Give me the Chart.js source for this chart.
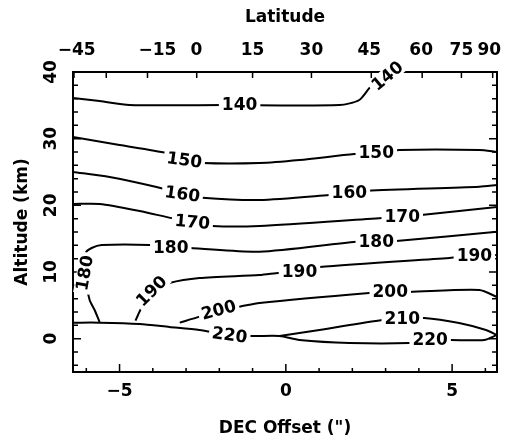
<!DOCTYPE html>
<html><head><meta charset="utf-8">
<script src="https://cdn.jsdelivr.net/npm/chart.js@4"></script>
<style>html,body{margin:0;padding:0;background:#fff}</style>
</head><body>
<canvas id="c" width="505" height="442"></canvas>
<script>
// ---- data ----
const decTicks = [-5, 0, 5];
const altTicks = [0, 10, 20, 30, 40];
const latLabels = ['−45', '−15', '0', '15', '30', '45', '60', '75', '90'];
const latLabelDec = [-6.29, -3.86, -2.69, -1.0, 0.77, 2.51, 4.07, 5.28, 6.12];
const latTickDec = [-6.37, -5.4, -4.16, -2.68, -1.0, 0.77, 2.57, 4.1, 5.28, 6.22];

const c140x = [-6.4, -5.6, -4.7, -1.85, 1.61, 2.21, 2.57, 3.05, 3.5];
const c140y = [36.1, 35.65, 35.05, 35.05, 35.05, 35.8, 37.9, 39.4, 40.6];
const c150x = [-6.4, -5.0, -3.59, -3.05, -2.5, -0.79, 0.41, 2.06, 2.72, 3.41, 5.82, 6.35];
const c150y = [30.25, 29.05, 27.85, 26.8, 26.35, 26.35, 26.8, 27.7, 27.85, 28.3, 28.3, 28.0];
const c160x = [-6.4, -5.3, -3.89, -3.11, -2.51, -0.79, 1.31, 1.91, 2.45, 5.82, 6.35];
const c160y = [25.0, 24.25, 22.75, 21.7, 21.15, 20.8, 21.55, 21.85, 22.2, 22.8, 23.05];
const c170x = [-6.4, -5.6, -4.4, -3.41, -2.81, -2.21, -0.79, 2.9, 3.5, 4.07, 6.35];
const c170y = [20.2, 20.2, 19.15, 18.06, 17.5, 16.9, 16.9, 18.1, 18.25, 18.55, 19.75];
const c180x = [-5.6, -5.75, -5.9, -6.05, -6.02, -5.84, -5.54, -4.1, -3.46, -2.9, -0.79, 2.12, 2.72, 3.32, 6.35];
const c180y = [2.5, 4.3, 5.8, 9.85, 12.85, 13.6, 14.05, 14.05, 13.6, 13.6, 13.05, 14.55, 14.55, 14.65, 16.05];
const c190x = [-4.52, -4.4, -4.04, -3.5, -2.6, -0.79, -0.19, 0.41, 1.01, 4.92, 5.67, 6.35];
const c190y = [2.7, 4.05, 7.15, 8.35, 9.1, 9.55, 9.9, 10.08, 10.75, 12.1, 12.4, 12.55];
const c200x = [-3.19, -2.6, -2.02, -1.39, -0.79, 2.51, 3.14, 3.71, 5.82, 6.35];
const c200y = [2.4, 3.3, 4.3, 4.8, 5.35, 6.85, 7.0, 7.0, 7.3, 6.25];
const c210x = [-0.19, 1.01, 2.9, 3.5, 4.16, 5.21, 6.02, 6.35];
const c210y = [0.4, 1.3, 2.8, 2.95, 3.1, 2.35, 1.3, 0.55];
const c220x = [-6.4, -5.6, -4.4, -3.5, -2.6, -1.69, -0.95, -0.19, 0.41, 1.91, 3.71, 4.34, 4.97, 5.96, 6.35];
const c220y = [2.4, 2.4, 2.2, 1.75, 1.3, 0.55, 0.4, 0.4, -0.2, -0.65, -0.65, -0.2, -0.2, -0.2, 0.55];

const labelLevel = [140, 140, 150, 150, 160, 160, 170, 170, 180, 180, 180, 190, 190, 190, 200, 200, 210, 220, 220];
const labelX = [-1.39, 3.05, -3.05, 2.72, -3.11, 1.91, -2.81, 3.5, -6.05, -3.46, 2.72, -4.04, 0.41, 5.67, -2.02, 3.14, 3.5, -1.69, 4.34];
const labelY = [35.05, 39.4, 26.8, 27.85, 21.7, 21.85, 17.5, 18.25, 9.85, 13.6, 14.55, 7.15, 10.08, 12.4, 4.3, 7.0, 2.95, 0.55, -0.2];
const labelAngle = [0, -40, 8, 0, 8, 0, 5, 0, -80, 0, 0, -45, 0, 0, -15, 0, 0, 8, 0];

// ---- build ----
const pts = (xs, ys) => xs.map((x, i) => ({x: x, y: ys[i]}));
const contours = [[c140x, c140y], [c150x, c150y], [c160x, c160y], [c170x, c170y], [c180x, c180y],
                  [c190x, c190y], [c200x, c200y], [c210x, c210y], [c220x, c220y]];
const FONT = {family: '"DejaVu Sans", sans-serif', size: 17, weight: 'bold'};

const framePlugin = {
  id: 'frame',
  afterDraw(chart) {
    const {ctx, chartArea: {left, right, top, bottom}, scales} = chart;
    ctx.save();
    ctx.strokeStyle = '#000';
    ctx.lineWidth = 2;
    ctx.strokeRect(left, top, right - left, bottom - top);
    ctx.lineWidth = 1.5;
    ctx.beginPath();
    for (let v = -6; v <= 6; v++) {
      const px = scales.x.getPixelForValue(v);
      const L = v % 5 === 0 ? 8 : 4;
      ctx.moveTo(px, bottom); ctx.lineTo(px, bottom - L);
    }
    latTickDec.forEach(v => {
      const px = scales.x2.getPixelForValue(v);
      ctx.moveTo(px, top); ctx.lineTo(px, top + 6);
    });
    for (let a = -4; a <= 38; a += 2) {
      const py = scales.y.getPixelForValue(a);
      const L = a % 10 === 0 ? 8 : 5;
      ctx.moveTo(left, py); ctx.lineTo(left + L, py);
      ctx.moveTo(right, py); ctx.lineTo(right - L, py);
    }
    ctx.stroke();
    ctx.restore();
  }
};

const labelPlugin = {
  id: 'clabels',
  afterDraw(chart) {
    const {ctx, scales: {x, y}} = chart;
    ctx.save();
    ctx.font = 'bold 17px "DejaVu Sans"';
    ctx.textAlign = 'center';
    ctx.textBaseline = 'middle';
    labelLevel.forEach((lv, i) => {
      const px = x.getPixelForValue(labelX[i]);
      const py = y.getPixelForValue(labelY[i]);
      const t = String(lv);
      const w = ctx.measureText(t).width;
      ctx.save();
      ctx.translate(px, py);
      ctx.rotate(labelAngle[i] * Math.PI / 180);
      ctx.fillStyle = '#fff';
      ctx.fillRect(-w / 2 - 3, -8, w + 6, 16);
      ctx.fillStyle = '#000';
      ctx.fillText(t, 0, 1);
      ctx.restore();
    });
    ctx.restore();
  }
};

const fitH = h => s => { s.height = h; s.paddingLeft = 0; s.paddingRight = 0; };

new Chart(document.getElementById('c'), {
  type: 'scatter',
  data: {
    datasets: contours.map(c => ({
      data: pts(c[0], c[1]),
      showLine: true,
      borderColor: '#000',
      borderWidth: 2,
      pointRadius: 0,
      tension: 0.25,
      xAxisID: 'x',
      yAxisID: 'y'
    }))
  },
  options: {
    responsive: false,
    animation: false,
    devicePixelRatio: 1,
    layout: {padding: {left: 0, right: 8, top: 0, bottom: 0}},
    plugins: {legend: {display: false}, tooltip: {enabled: false}},
    scales: {
      x: {
        type: 'linear', position: 'bottom', min: -6.4, max: 6.35,
        grid: {display: false, drawTicks: false}, border: {display: false},
        afterBuildTicks: s => { s.ticks = decTicks.map(v => ({value: v})); },
        afterFit: fitH(70),
        ticks: {color: '#000', font: FONT, padding: 9, maxRotation: 0, autoSkip: false,
                callback: v => (v < 0 ? '−' + Math.abs(v) : String(v))},
        title: {display: true, text: 'DEC Offset (")', color: '#000', font: FONT, padding: {top: 0, bottom: 3}}
      },
      x2: {
        type: 'linear', position: 'top', min: -6.4, max: 6.35,
        grid: {display: false, drawTicks: false}, border: {display: false},
        afterBuildTicks: s => { s.ticks = latLabelDec.map(v => ({value: v})); },
        afterFit: fitH(72),
        ticks: {color: '#000', font: FONT, padding: 11, maxRotation: 0, autoSkip: false,
                callback: (v, i) => latLabels[i]},
        title: {display: true, text: 'Latitude', color: '#000', font: FONT, padding: {top: 7, bottom: 0}}
      },
      y: {
        type: 'linear', position: 'left', min: -5, max: 40,
        grid: {display: false, drawTicks: false}, border: {display: false},
        afterBuildTicks: s => { s.ticks = altTicks.map(v => ({value: v})); },
        afterFit: s => { s.width = 73; s.paddingTop = 0; s.paddingBottom = 0; },
        ticks: {color: '#000', font: FONT, padding: 10, minRotation: 90, maxRotation: 90,
                crossAlign: 'center', autoSkip: false},
        title: {display: true, text: 'Altitude (km)', color: '#000', font: FONT, padding: {top: 12, bottom: 0}}
      }
    }
  },
  plugins: [framePlugin, labelPlugin]
});
</script>
</body></html>
